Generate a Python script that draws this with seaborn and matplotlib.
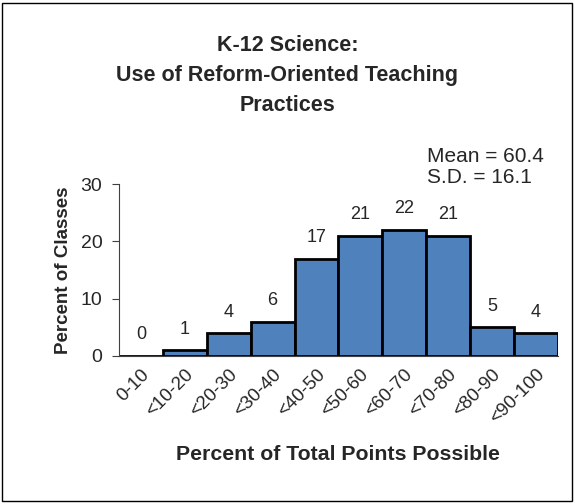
"""
Histogram of reform-oriented teaching practice scores (K-12 science)
"""
import matplotlib
matplotlib.use('Agg')
import matplotlib.pyplot as plt
import seaborn as sns
from matplotlib.patches import Rectangle

# data
bins = ['0-10', '<10-20', '<20-30', '<30-40', '<40-50',
        '<50-60', '<60-70', '<70-80', '<80-90', '<90-100']
percents = [0, 1, 4, 6, 17, 21, 22, 21, 5, 4]
mean_val = 60.4
sd_val = 16.1

sns.set_style('white')
plt.rcParams['font.family'] = ['Liberation Sans', 'DejaVu Sans']

fig = plt.figure(figsize=(5.75, 5.04), dpi=100)
ax = fig.add_axes([0.207, 0.2937, 0.763, 0.341])

sns.barplot(x=bins, y=percents, color='#4F81BD', edgecolor='black',
            linewidth=2, width=1.0, saturation=1, ax=ax)

# value labels above bars
for i, v in enumerate(percents):
    ax.annotate(str(v), (i, v), xytext=(0, 9), textcoords='offset points',
                ha='center', va='bottom', fontsize=13)

ax.set_ylim(0, 30)
ax.set_yticks([0, 10, 20, 30])
ax.set_xlim(-0.5, 9.5)
ax.tick_params(axis='y', labelsize=14, length=5, width=0.8, direction='out',
               left=True, pad=7, color='#404040')
ax.tick_params(axis='x', labelsize=13.5, length=0, pad=7)
plt.setp(ax.get_xticklabels(), rotation=45, ha='right', rotation_mode='anchor')

sns.despine(ax=ax)
ax.spines['left'].set_color('#404040')
ax.spines['left'].set_linewidth(0.8)
ax.spines['bottom'].set_color('#404040')
ax.spines['bottom'].set_linewidth(0.8)

ax.set_ylabel('Percent of Classes', fontsize=13.5, fontweight='bold', labelpad=6)
ax.set_xlabel('Percent of Total Points Possible', fontsize=15.3,
              fontweight='bold', labelpad=13)

fig.text(0.5, 0.93, 'K-12 Science:\nUse of Reform-Oriented Teaching\nPractices',
         ha='center', va='top', fontsize=15.5, fontweight='bold', linespacing=1.55)
fig.text(0.743, 0.629, 'Mean = %.1f\nS.D. = %.1f' % (mean_val, sd_val),
         ha='left', va='bottom', fontsize=15, linespacing=1.1)

# outer border
fig.patches.append(Rectangle((0.004, 0.006), 0.99, 0.988, transform=fig.transFigure,
                             fill=False, edgecolor='black', linewidth=1))

fig.savefig('out.png', dpi=100)
